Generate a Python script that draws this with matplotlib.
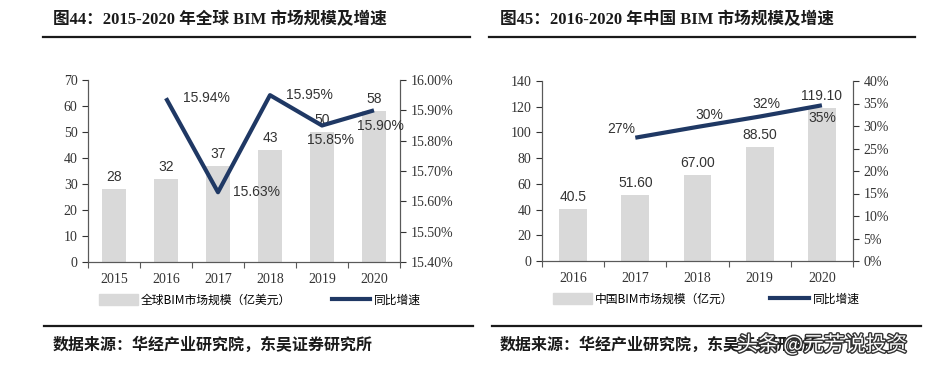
import numpy as np
import matplotlib
matplotlib.use("Agg")
import matplotlib.pyplot as plt
from matplotlib.patches import Patch
from matplotlib.lines import Line2D
import matplotlib.patheffects as pe

# 数据
years_a = ["2015", "2016", "2017", "2018", "2019", "2020"]
size_a = [28, 32, 37, 43, 50, 58]
growth_a = [np.nan, 15.94, 15.63, 15.95, 15.85, 15.90]
size_a_labels = ["28", "32", "37", "43", "50", "58"]

years_b = ["2016", "2017", "2018", "2019", "2020"]
size_b = [40.5, 51.6, 67.0, 88.5, 119.1]
size_b_labels = ["40.5", "51.60", "67.00", "88.50", "119.10"]
growth_b = [np.nan, 27.4, 29.8, 32.1, 34.6]
growth_b_labels = ["", "27%", "30%", "32%", "35%"]

title_a = "图44：2015-2020 年全球 BIM 市场规模及增速"
title_b = "图45：2016-2020 年中国 BIM 市场规模及增速"
legend_a = "全球BIM市场规模（亿美元）"
legend_b = "中国BIM市场规模（亿元）"
legend_line = "同比增速"
source = "数据来源：华经产业研究院，东吴证券研究所"

BAR = "#d9d9d9"
LINE = "#1f3864"
SERIF = ["Liberation Serif", "Noto Sans CJK SC"]
SANS = ["Liberation Sans", "Noto Sans CJK SC"]
CJK = ["Noto Sans CJK SC", "DejaVu Sans"]

fig = plt.figure(figsize=(9.45, 3.7), dpi=100)
W, H = 945, 370


def fx(px):
    return px / W


def fy(py):
    return 1 - py / H


def style_axes(ax, ax2):
    for a in (ax, ax2):
        a.spines["top"].set_visible(False)
        for s in ("left", "right", "bottom"):
            a.spines[s].set_color("#595959")
            a.spines[s].set_linewidth(0.8)
        a.tick_params(colors="#333333", labelsize=10, length=4, width=0.8)
        for lab in a.get_yticklabels() + a.get_xticklabels():
            lab.set_family(SERIF)
    ax.tick_params(axis="x", length=0, pad=8)


def draw_chart(rect, years, sizes, size_labels, bar_w, ylim, yticks, y2lim, y2ticks, y2fmt):
    ax = fig.add_axes(rect)
    x = np.arange(len(years))
    ax.bar(x, sizes, width=bar_w, color=BAR, zorder=1)
    ax.set_xlim(-0.5, len(years) - 0.5)
    ax.set_ylim(*ylim)
    ax.set_yticks(yticks)
    ax.set_xticks(x)
    ax.set_xticklabels(years)
    # 类别之间的刻度
    ax.set_xticks(np.arange(-0.5, len(years) + 0.5, 1), minor=True)
    ax.tick_params(axis="x", which="minor", length=4, width=0.8, color="#595959")
    for xi, v, t in zip(x, sizes, size_labels):
        ax.annotate(t, (xi, v), xytext=(0, 5), textcoords="offset pixels",
                    ha="center", va="bottom", fontsize=10, family=SANS, color="#333333")
    ax2 = ax.twinx()
    ax2.set_ylim(*y2lim)
    ax2.set_yticks(y2ticks)
    ax2.set_yticklabels([y2fmt(t) for t in y2ticks])
    style_axes(ax, ax2)
    return ax, ax2, x


# 左图
ax, ax2, x = draw_chart([fx(88), fy(262), fx(312), (262 - 80) / H], years_a, size_a, size_a_labels,
                        0.48, (0, 70), np.arange(0, 71, 10), (15.40, 16.00),
                        np.arange(15.40, 16.001, 0.10), lambda t: f"{t:.2f}%")
ax2.plot(x, growth_a, color=LINE, lw=3, solid_capstyle="butt", zorder=3)
offs_a = [None, (40, 0), (39, 0), (39, 0), (9, -15), (6, -16)]
for xi, v, o in zip(x, growth_a, offs_a):
    if o is None:
        continue
    ax2.annotate(f"{v:.2f}%", (xi, v), xytext=o, textcoords="offset pixels",
                 ha="center", va="center", fontsize=10, family=SANS, color="#333333")
ax.legend(handles=[Patch(color=BAR), Line2D([], [], color=LINE, lw=3)],
          labels=[legend_a, legend_line], prop={"family": CJK, "size": 8.5},
          ncol=2, frameon=False, loc="center left", bbox_to_anchor=(0.0, -0.21),
          handlelength=3.3, handleheight=1.0, columnspacing=3.4, handletextpad=0.3)

# 右图
bx, bx2, xb = draw_chart([fx(542), fy(261), fx(311), (261 - 81) / H], years_b, size_b, size_b_labels,
                         0.45, (0, 140), np.arange(0, 141, 20), (0, 40),
                         np.arange(0, 41, 5), lambda t: f"{int(t)}%")
bx2.plot(xb, growth_b, color=LINE, lw=3, solid_capstyle="butt", zorder=3)
offs_b = [None, (-14, 9), (12, 12), (7, 13), (0, -13)]
for xi, v, o, t in zip(xb, growth_b, offs_b, growth_b_labels):
    if o is None:
        continue
    bx2.annotate(t, (xi, v), xytext=o, textcoords="offset pixels",
                 ha="center", va="center", fontsize=10, family=SANS, color="#333333")
bx.legend(handles=[Patch(color=BAR), Line2D([], [], color=LINE, lw=3)],
          labels=[legend_b, legend_line], prop={"family": CJK, "size": 8.5},
          ncol=2, frameon=False, loc="center left", bbox_to_anchor=(0.0, -0.21),
          handlelength=3.3, handleheight=1.0, columnspacing=3.1, handletextpad=0.3)

# 标题与分隔线
for tx, lx0, lx1, title in [(53, 43, 470, title_a), (500, 489, 915, title_b)]:
    fig.text(fx(tx), fy(20), title, fontsize=12, fontweight="bold", family=SERIF,
             ha="left", va="center", color="#1a1a1a")
    fig.add_artist(Line2D([fx(lx0), fx(lx1)], [fy(37), fy(37)], color="#1a1a1a", lw=1.6))

for tx, lx0, lx1 in [(53, 44, 473), (500, 492, 921)]:
    fig.add_artist(Line2D([fx(lx0), fx(lx1)], [fy(326), fy(326)], color="#1a1a1a", lw=1.6))
    fig.text(fx(tx), fy(345), source, fontsize=11.5, fontweight="bold", family=CJK,
             ha="left", va="center", color="#1a1a1a")

# 水印
fig.text(fx(737), fy(345), "头条 @元芳说投资", fontsize=15, family=CJK, color="white",
         ha="left", va="center",
         path_effects=[pe.withStroke(linewidth=2, foreground="#333333")])

fig.savefig("out.png", dpi=100)
